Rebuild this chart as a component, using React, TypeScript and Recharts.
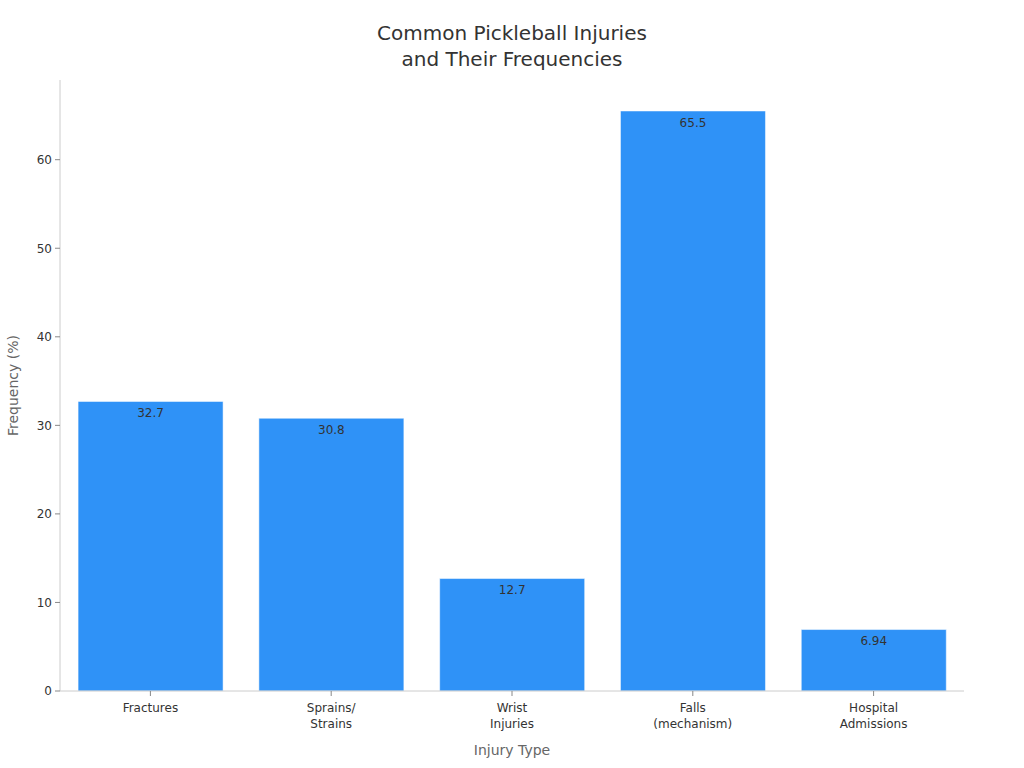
import React from 'react';
import { BarChart, Bar, XAxis, YAxis, LabelList } from 'recharts';

const categories = ['Fractures', 'Sprains/\nStrains', 'Wrist\nInjuries', 'Falls\n(mechanism)', 'Hospital\nAdmissions'];
const frequencies = [32.7, 30.8, 12.7, 65.5, 6.94];
const yTicks = [0, 10, 20, 30, 40, 50, 60];

const data = categories.map((c, i) => ({ name: c, value: frequencies[i] }));

const FONT = '"DejaVu Sans", sans-serif';

const CategoryTick = (props: any) => {
  const { x, y, payload } = props;
  const lines = String(payload.value).split('\n');
  return (
    <text x={x} y={y + 2} textAnchor="middle" fill="#333" fontSize={12} fontFamily={FONT}>
      {lines.map((l, i) => (
        <tspan key={i} x={x} dy={i === 0 ? 12 : 16}>{l}</tspan>
      ))}
    </text>
  );
};

export default function App() {
  return (
    <div style={{ position: 'absolute', left: 0, top: 0, width: 1024, height: 768, background: '#fff', fontFamily: FONT }}>
      <div style={{ position: 'absolute', top: 20, left: 0, width: 1024, textAlign: 'center', fontSize: 20, lineHeight: '26px', color: '#333' }}>
        Common Pickleball Injuries<br />and Their Frequencies
      </div>
      <BarChart
        width={1024}
        height={768}
        data={data}
        margin={{ top: 80, right: 60, bottom: 0, left: 0 }}
        barCategoryGap="10%"
      >
        <XAxis
          dataKey="name"
          height={77}
          interval={0}
          tick={<CategoryTick />}
          tickLine={{ stroke: '#888' }}
          tickSize={5}
          axisLine={{ stroke: '#ccc' }}
          label={{ value: 'Injury Type', position: 'insideBottom', offset: 13, fill: '#666', fontSize: 14, fontFamily: FONT }}
        />
        <YAxis
          width={60}
          domain={[0, 69]}
          ticks={yTicks}
          tick={{ fill: '#333', fontSize: 12, fontFamily: FONT }}
          tickLine={{ stroke: '#888' }}
          tickSize={5}
          tickMargin={3}
          axisLine={{ stroke: '#ccc' }}
          label={{ value: 'Frequency (%)', angle: -90, position: 'insideLeft', offset: 13, fill: '#666', fontSize: 14, fontFamily: FONT, style: { textAnchor: 'middle' } }}
        />
        <Bar dataKey="value" fill="#2f92f7" stroke="#ffffff" strokeOpacity={0.5} isAnimationActive={false}>
          <LabelList dataKey="value" position="insideTop" offset={7} fill="#333" fontSize={12} fontFamily={FONT} />
        </Bar>
      </BarChart>
    </div>
  );
}
